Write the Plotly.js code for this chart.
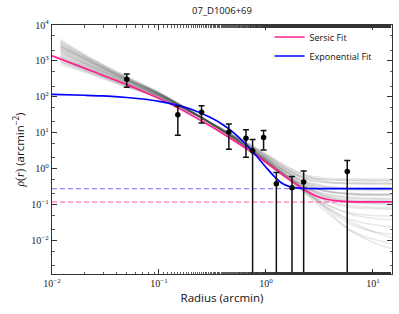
<!DOCTYPE html>
<html>
<head>
<meta charset="utf-8">
<script src="https://cdn.plot.ly/plotly-3.0.1.min.js"></script>
<style>html,body{margin:0;padding:0;background:#fff;}#chart{width:399px;height:314px;}</style>
</head>
<body>
<div id="chart"></div>
<script>
// ---- data ----
var chartTitle = "07_D1006+69";
// binned profile
var radius = [0.05, 0.15, 0.25, 0.45, 0.65, 0.75, 0.95, 1.25, 1.75, 2.25, 5.75];
var density = [310, 31.6, 37.6, 10.5, 7.1, 3.16, 7.4, 0.38, 0.295, 0.43, 0.84];
var densityErr = [125, 23, 19, 7.0, 5.0, 3.3, 4.1, 0.40, 0.31, 0.44, 0.85];

// fitted curves
var fitRadius = [0.01, 0.02, 0.03, 0.05, 0.07, 0.1, 0.15, 0.2, 0.3, 0.4, 0.5, 0.6, 0.7, 0.8, 1.0, 1.2, 1.4, 1.7, 2.0, 2.5, 3, 4, 5, 7, 10, 15];
var sersicFit = [1380, 630, 395, 219, 144, 89.5, 49.8, 31.4, 15.6, 9.27, 6.1, 4.29, 3.16, 2.4, 1.49, 0.995, 0.714, 0.48, 0.341, 0.225, 0.17, 0.135, 0.125, 0.12, 0.119, 0.119];
var expFit = [117, 111, 106, 96, 87, 75, 58, 45, 27, 16.5, 10, 6.1, 3.8, 2.4, 1.1, 0.6, 0.4, 0.31, 0.29, 0.282, 0.28, 0.28, 0.28, 0.28, 0.28, 0.28];
var sersicBg = 0.119;
var expBg = 0.28;

// posterior sample curves (grey), read approximately
var sampleRadius = [0.012, 0.02, 0.05, 0.1, 0.2, 0.35, 0.6, 1.0, 1.5, 2.2, 3.5, 6, 10, 15];
var samples = [
 [2500, 1150, 310, 125, 40, 15, 5.6, 2.0, 0.9, 0.55, 0.42, 0.4, 0.4, 0.4],
 [1800, 880, 265, 112, 38, 14, 5.0, 1.7, 0.7, 0.35, 0.2, 0.16, 0.15, 0.15],
 [3200, 1350, 335, 128, 40, 14.5, 5.0, 1.6, 0.62, 0.27, 0.11, 0.06, 0.05, 0.048],
 [1500, 760, 245, 108, 38, 15, 5.8, 2.2, 1.0, 0.6, 0.5, 0.48, 0.48, 0.48],
 [1200, 660, 225, 103, 37, 14.5, 5.5, 2.0, 0.85, 0.42, 0.24, 0.19, 0.18, 0.18],
 [2200, 1020, 295, 120, 40, 15, 5.3, 1.75, 0.68, 0.28, 0.09, 0.03, 0.018, 0.015],
 [2800, 1230, 315, 122, 39, 14, 4.8, 1.6, 0.63, 0.28, 0.13, 0.085, 0.078, 0.075],
 [1000, 570, 205, 98, 36, 14.5, 5.8, 2.3, 1.05, 0.55, 0.33, 0.28, 0.27, 0.27],
 [3600, 1450, 355, 132, 41, 14.5, 5.0, 1.6, 0.62, 0.26, 0.085, 0.02, 0.009, 0.006],
 [1600, 810, 255, 110, 38, 14.5, 5.4, 1.95, 0.85, 0.45, 0.3, 0.26, 0.25, 0.25],
 [2000, 920, 275, 115, 38, 14, 5.0, 1.7, 0.7, 0.33, 0.17, 0.115, 0.105, 0.1],
 [900, 530, 195, 95, 36, 15, 6.2, 2.5, 1.2, 0.72, 0.55, 0.52, 0.52, 0.52],
 [2600, 1170, 305, 120, 39, 14, 4.9, 1.65, 0.66, 0.3, 0.14, 0.095, 0.085, 0.082],
 [1400, 730, 240, 107, 37, 14, 5.2, 1.85, 0.8, 0.4, 0.24, 0.2, 0.19, 0.19],
 [3000, 1280, 325, 125, 39, 14, 4.8, 1.55, 0.6, 0.24, 0.07, 0.02, 0.011, 0.008],
 [2300, 1060, 295, 118, 39, 14.5, 5.1, 1.75, 0.72, 0.35, 0.2, 0.155, 0.145, 0.14],
 [1100, 610, 215, 101, 37, 15, 6.0, 2.4, 1.1, 0.65, 0.5, 0.47, 0.46, 0.46],
 [1900, 890, 268, 113, 38, 14, 5.0, 1.72, 0.72, 0.35, 0.18, 0.13, 0.125, 0.12],
 [4000, 1550, 365, 133, 40, 14, 4.7, 1.5, 0.58, 0.24, 0.09, 0.04, 0.028, 0.024],
 [1300, 700, 232, 105, 37, 14.5, 5.5, 2.05, 0.9, 0.48, 0.32, 0.29, 0.28, 0.28],
 [2100, 960, 285, 117, 39, 14.3, 5.1, 1.7, 0.7, 0.32, 0.16, 0.12, 0.11, 0.11],
 [800, 490, 185, 93, 36, 15.5, 6.5, 2.6, 1.25, 0.7, 0.45, 0.38, 0.37, 0.37],
 [2700, 1200, 310, 121, 39, 14, 4.8, 1.6, 0.62, 0.27, 0.11, 0.055, 0.042, 0.038],
 [1700, 830, 258, 110, 38, 14.3, 5.2, 1.85, 0.78, 0.38, 0.24, 0.21, 0.2, 0.2],
 [3400, 1400, 340, 126, 39, 13.5, 4.6, 1.5, 0.6, 0.26, 0.1, 0.035, 0.018, 0.012],
 [1250, 680, 230, 104, 38, 15, 5.6, 2.05, 0.9, 0.46, 0.26, 0.2, 0.19, 0.19],
 [2400, 1100, 300, 119, 38, 13.8, 4.9, 1.65, 0.68, 0.33, 0.18, 0.14, 0.13, 0.13],
 [950, 550, 200, 97, 36, 14.8, 5.9, 2.3, 1.05, 0.58, 0.42, 0.4, 0.39, 0.39]
];

// axis ticks
var xTickVals = [0.01, 0.1, 1, 10];
var xTickText = ["10<sup>\u22122</sup>", "10<sup>\u22121</sup>", "10<sup>0</sup>", "10<sup>1</sup>"];
var yTickVals = [0.01, 0.1, 1, 10, 100, 1000, 10000];
var yTickText = ["10<sup>\u22122</sup>", "10<sup>\u22121</sup>", "10<sup>0</sup>", "10<sup>1</sup>", "10<sup>2</sup>", "10<sup>3</sup>", "10<sup>4</sup>"];

var pinkColor = "#ff1f8e";
var blueColor = "#0000ff";
var sansFont = "Open Sans, DejaVu Sans, sans-serif";

// ---- traces ----
var traces = [];
samples.forEach(function (s) {
  traces.push({
    x: sampleRadius, y: s, type: "scatter", mode: "lines",
    line: {color: "rgba(70,70,70,0.12)", width: 1.6, shape: "spline"},
    showlegend: false, hoverinfo: "skip"
  });
});
var xEnds = [fitRadius[0], fitRadius[fitRadius.length - 1]];
traces.push({
  x: xEnds, y: [expBg, expBg], type: "scatter", mode: "lines",
  line: {color: "rgba(0,0,255,0.45)", width: 1.4, dash: "5px,3px"},
  showlegend: false, hoverinfo: "skip"
});
traces.push({
  x: xEnds, y: [sersicBg, sersicBg], type: "scatter", mode: "lines",
  line: {color: "rgba(255,31,142,0.5)", width: 1.4, dash: "5px,3px"},
  showlegend: false, hoverinfo: "skip"
});
traces.push({
  x: fitRadius, y: sersicFit, type: "scatter", mode: "lines", name: "Sersic Fit",
  line: {color: pinkColor, width: 1.7, shape: "spline"}
});
traces.push({
  x: fitRadius, y: expFit, type: "scatter", mode: "lines", name: "Exponential Fit",
  line: {color: blueColor, width: 1.7, shape: "spline"}
});
traces.push({
  x: radius, y: density, type: "scatter", mode: "markers",
  marker: {color: "#000", size: 5.5},
  error_y: {type: "data", array: densityErr, symmetric: true, color: "#111", thickness: 1.5, width: 3},
  showlegend: false
});

var axisCommon = {
  type: "log",
  showline: true, linecolor: "#333", linewidth: 1.2, mirror: "ticks",
  ticks: "inside", ticklen: 5, tickwidth: 1, tickcolor: "#333",
  showgrid: false, zeroline: false,
  minor: {ticks: "inside", ticklen: 2.5, tickwidth: 0.8, tickcolor: "#333", showgrid: false},
  tickfont: {family: "Liberation Serif, DejaVu Serif, serif", size: 10, color: "#222"}
};

var layout = {
  width: 399, height: 314,
  margin: {l: 52, r: 7, t: 25, b: 40},
  paper_bgcolor: "#fff", plot_bgcolor: "#fff",
  title: {text: chartTitle, x: 0.5, xref: "paper", xanchor: "center", y: 0.965, yref: "container", yanchor: "middle",
          font: {family: sansFont, size: 9.5, color: "#111"}},
  xaxis: Object.assign({}, axisCommon, {
    range: [-2, 1.178], tickvals: xTickVals, ticktext: xTickText,
    title: {text: "Radius (arcmin)", standoff: 5, font: {family: sansFont, size: 11.5, color: "#111"}}
  }),
  yaxis: Object.assign({}, axisCommon, {
    range: [-2.93, 4], tickvals: yTickVals, ticktext: yTickText,
    title: {text: "<span style=\"font-family:Liberation Serif\"><i>\u03c1</i>(<i>r</i>)</span> (arcmin<sup>\u22122</sup>)", standoff: 4,
            font: {family: sansFont, size: 11.5, color: "#111"}}
  }),
  legend: {x: 0.64, xanchor: "left", y: 1.01, yanchor: "top", bgcolor: "rgba(255,255,255,0)",
           font: {family: sansFont, size: 9, color: "#111"}},
  showlegend: true
};

Plotly.newPlot("chart", traces, layout, {displayModeBar: false, staticPlot: true});
</script>
</body>
</html>
